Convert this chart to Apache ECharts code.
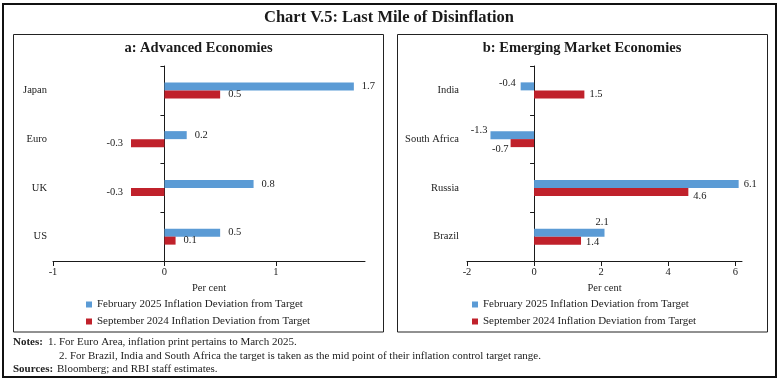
<!DOCTYPE html>
<html><head><meta charset="utf-8">
<script src="https://cdn.jsdelivr.net/npm/echarts@6/dist/echarts.min.js"></script>
<style>html,body{margin:0;padding:0;background:#fff}#c{width:779px;height:381px}</style>
</head><body><div id="c"></div>
<script>
// ---- data ----
const advCategories = ['Japan', 'Euro', 'UK', 'US'];
const advFeb2025 = [1.7, 0.2, 0.8, 0.5];
const advSep2024 = [0.5, -0.3, -0.3, 0.1];
const emeCategories = ['India', 'South Africa', 'Russia', 'Brazil'];
const emeFeb2025 = [-0.4, -1.3, 6.1, 2.1];
const emeSep2024 = [1.5, -0.7, 4.6, 1.4];
const advTicks = [-1, 0, 1];
const emeTicks = [-2, 0, 2, 4, 6];
const seriesNames = ['February 2025 Inflation Deviation from Target', 'September 2024 Inflation Deviation from Target'];
const titleText = 'Chart V.5: Last Mile of Disinflation';
const panelTitles = ['a: Advanced Economies', 'b: Emerging Market Economies'];
const axisName = 'Per cent';
const notesLabel = 'Notes:';
const note1 = '1. For Euro Area, inflation print pertains to March 2025.';
const note2 = '2. For Brazil, India and South Africa the target is taken as the mid point of their inflation control target range.';
const sourcesLabel = 'Sources:';
const sourcesText = 'Bloomberg; and RBI staff estimates.';

// ---- styles ----
const FF = '"Liberation Serif", "DejaVu Serif", serif';
const BLUE = '#5B9BD5';
const RED = '#C0212B';
const TXT = '#222';
const AX = '#1a1a1a';
// label tweaks (offset) per index for EME panel
const emeFebLabel = {0: {offset: [0, -3]}, 1: {offset: [2, -5]}, 3: {offset: [-14, -10]}};
const emeSepLabel = {1: {offset: [3, 6]}, 2: {offset: [0, 4]}, 3: {offset: [0, 2]}};

function barSeries(name, vals, idx, color, dist, tweaks) {
  return {
    type: 'bar', name: name, xAxisIndex: idx, yAxisIndex: idx,
    barWidth: 8, barGap: '0%', itemStyle: {color: color},
    label: {show: true, distance: dist, fontSize: 10.5, fontFamily: FF, color: TXT,
      formatter: p => Number(p.value).toFixed(1)},
    data: vals.map((v, i) => ({value: v, label: Object.assign({position: v < 0 ? 'left' : 'right'}, (tweaks && tweaks[i]) || {})}))
  };
}

function xAx(idx, min, max, ticks) {
  return {
    type: 'value', gridIndex: idx, min: min, max: max, interval: ticks[1] - ticks[0],
    name: axisName, nameLocation: 'middle', nameGap: 13,
    nameTextStyle: {fontFamily: FF, fontSize: 10.5, color: TXT},
    axisLine: {show: true, onZero: false, lineStyle: {color: AX, width: 1}},
    axisTick: {show: true, length: 5, customValues: ticks, lineStyle: {color: AX}},
    axisLabel: {customValues: ticks, fontFamily: FF, fontSize: 10.5, color: TXT, margin: 6},
    splitLine: {show: false}
  };
}
function yAx(idx, cats, margin) {
  return {
    type: 'category', gridIndex: idx, data: cats, inverse: true,
    axisLine: {show: true, onZero: true, lineStyle: {color: AX, width: 1}},
    axisTick: {show: true, length: 4, lineStyle: {color: AX}},
    axisLabel: {fontFamily: FF, fontSize: 10.5, color: TXT, margin: margin}
  };
}
function legend(left) {
  return {
    orient: 'vertical', left: left, top: 299, padding: 0, itemWidth: 6, itemHeight: 6, itemGap: 6,
    icon: 'rect', data: seriesNames,
    textStyle: {fontFamily: FF, fontSize: 11, color: TXT}
  };
}
function txt(x, y, text, opts) {
  return {type: 'text', x: x, y: y, silent: true,
    style: Object.assign({text: text, fontFamily: FF, fontSize: 11, fill: TXT, verticalAlign: 'middle'}, opts || {})};
}

const chart = echarts.init(document.getElementById('c'), null, {renderer: 'canvas'});
chart.setOption({
  animation: false,
  backgroundColor: '#fff',
  grid: [
    {left: 53, right: 779 - 365, top: 66, bottom: 120, containLabel: false, outerBoundsMode: 'none'},
    {left: 467, right: 779 - 742, top: 66, bottom: 120, containLabel: false, outerBoundsMode: 'none'}
  ],
  xAxis: [xAx(0, -1, 1.8, advTicks), xAx(1, -2, 6.2, emeTicks)],
  yAxis: [yAx(0, advCategories, 6), yAx(1, emeCategories, 8)],
  legend: [legend(86), legend(472)],
  series: [
    barSeries(seriesNames[0], advFeb2025, 0, BLUE, 8),
    barSeries(seriesNames[1], advSep2024, 0, RED, 8),
    barSeries(seriesNames[0], emeFeb2025, 1, BLUE, 5, emeFebLabel),
    barSeries(seriesNames[1], emeSep2024, 1, RED, 5, emeSepLabel)
  ],
  graphic: [
    {type: 'rect', silent: true, shape: {x: 3, y: 4, width: 773, height: 373}, style: {fill: 'none', stroke: '#111', lineWidth: 2}},
    {type: 'rect', silent: true, shape: {x: 13.5, y: 34.5, width: 370, height: 297.5}, style: {fill: 'none', stroke: '#222', lineWidth: 1}},
    {type: 'rect', silent: true, shape: {x: 397.5, y: 34.5, width: 370, height: 297.5}, style: {fill: 'none', stroke: '#222', lineWidth: 1}},
    txt(389, 18, titleText, {fontSize: 16.5, fontWeight: 'bold', align: 'center', fill: '#1a1a1a'}),
    txt(198.5, 48, panelTitles[0], {fontSize: 14.5, fontWeight: 'bold', align: 'center', fill: '#1a1a1a'}),
    txt(582, 48, panelTitles[1], {fontSize: 14.5, fontWeight: 'bold', align: 'center', fill: '#1a1a1a'}),
    txt(13, 342, notesLabel, {fontWeight: 'bold'}),
    txt(48, 342, note1),
    txt(59, 356, note2),
    txt(13, 369, sourcesLabel, {fontWeight: 'bold'}),
    txt(57, 369, sourcesText)
  ]
});
</script></body></html>
